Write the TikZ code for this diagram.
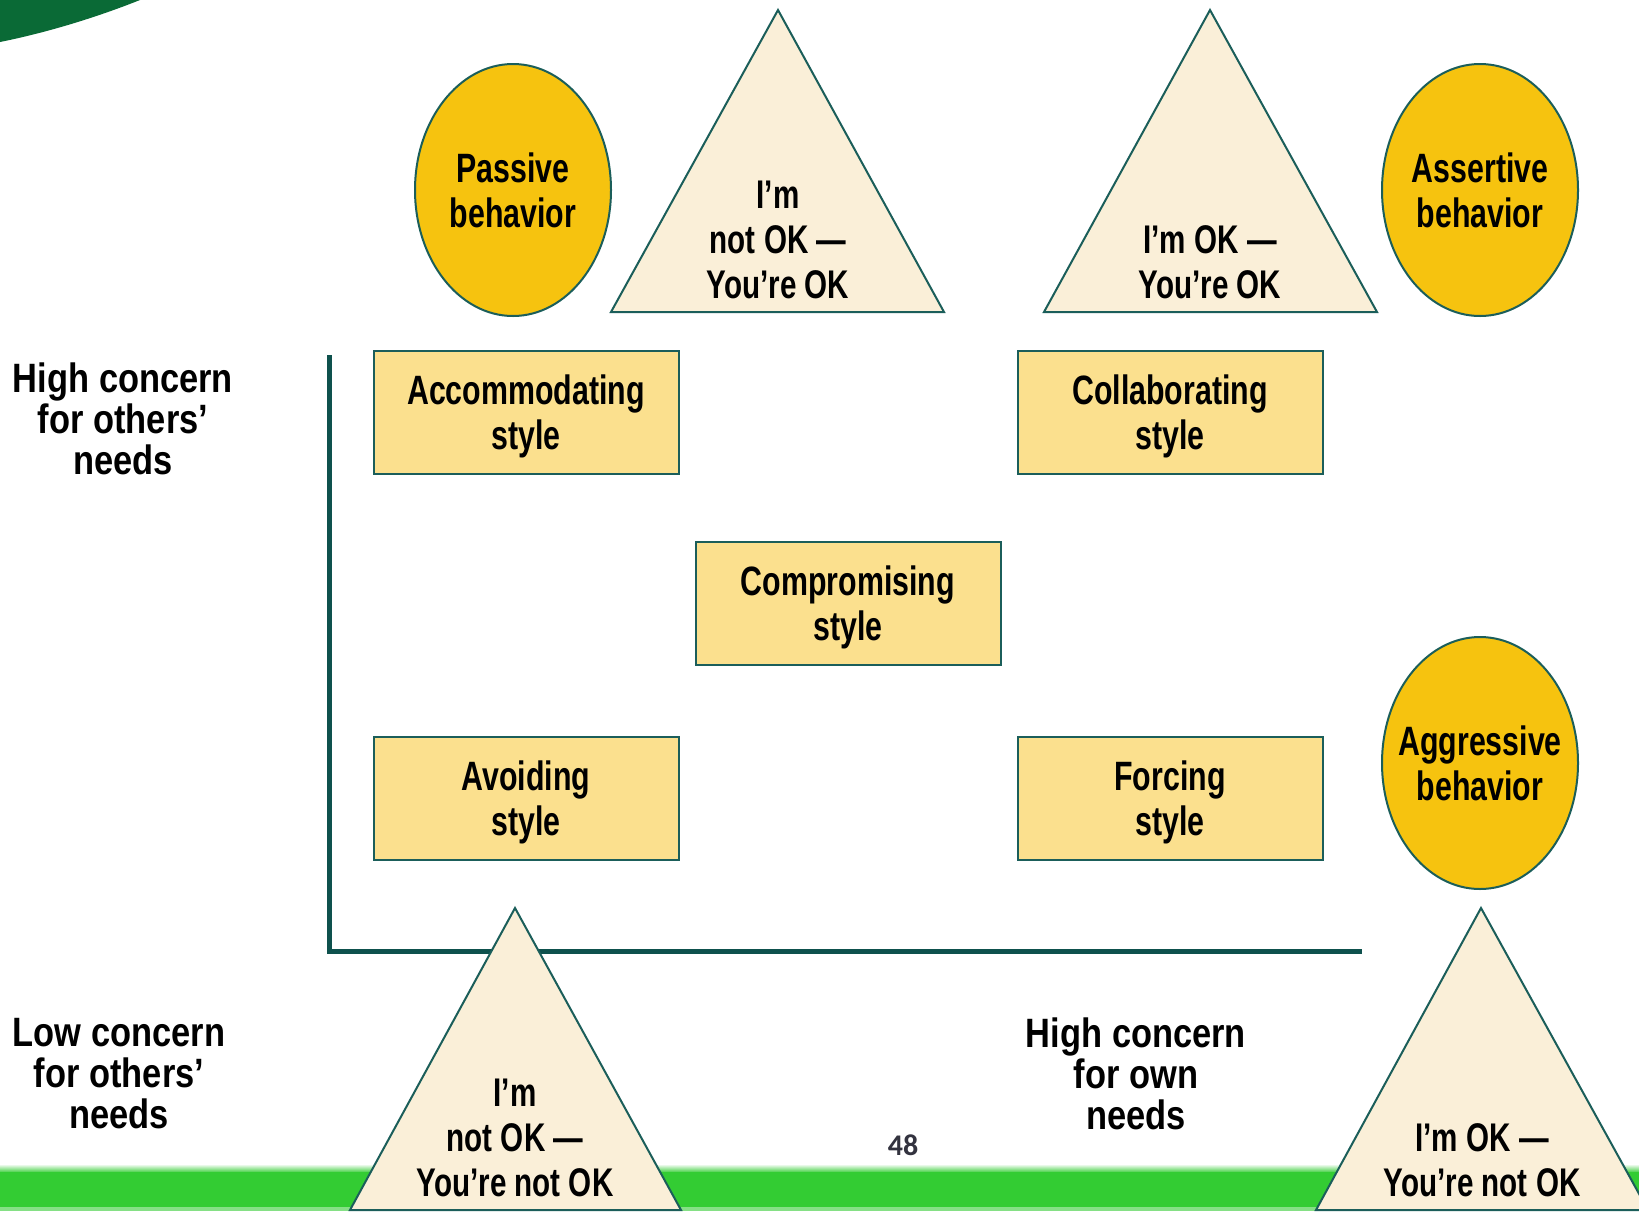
\documentclass[tikz,border=0pt]{standalone}
\usepackage{fontspec}
\setmainfont{Liberation Sans}
\newfontfamily\shapefont[FakeStretch=0.74]{Liberation Sans}
\newfontfamily\labelfont[FakeStretch=0.84]{Liberation Sans}
\newfontfamily\numfont{Carlito}
\usetikzlibrary{shapes.geometric}
\definecolor{darkgreen}{HTML}{0A6A36}
\definecolor{bandgreen}{HTML}{33CC33}
\definecolor{gold}{HTML}{F6C30F}
\definecolor{boxfill}{HTML}{FBE08E}
\definecolor{trifill}{HTML}{FAEFD8}
\definecolor{edge}{HTML}{1B5E5A}
\definecolor{axiscol}{HTML}{0E514D}
\definecolor{numcol}{HTML}{33333F}
\tikzset{
  ell/.style={ellipse, draw=edge, line width=2pt, fill=gold, minimum width=196pt, minimum height=252pt, inner xsep=-30pt, inner ysep=0pt, align=center, font=\shapefont\bfseries\fontsize{41}{45}\selectfont},
  stylebox/.style={rectangle, draw=edge, line width=2pt, fill=boxfill, minimum width=305pt, minimum height=123pt, inner sep=0pt, text depth=0pt, align=center, font=\shapefont\bfseries\fontsize{41}{45}\selectfont},
  tri/.style={draw=edge, line width=2pt, fill=trifill, line join=miter},
  tritext/.style={align=center, inner sep=0pt, font=\shapefont\bfseries\fontsize{40}{45}\selectfont},
  axislabel/.style={align=center, inner sep=0pt, font=\labelfont\bfseries\fontsize{41}{41}\selectfont},
  axisline/.style={draw=axiscol, line width=5pt}
}
\begin{document}
\begin{tikzpicture}[x=1pt,y=-1pt]
\useasboundingbox (0,0) rectangle (1639,1211);
\begin{scope}
\clip (0,0) rectangle (1639,1211);
\fill[white] (0,0) rectangle (1639,1211);
% corner arc
\fill[darkgreen] (0,0) -- (140,0) .. controls (95,18) and (45,33) .. (0,42) -- cycle;
% bottom band
\shade[top color=white, bottom color=bandgreen] (0,1164) rectangle (1639,1173);
\fill[bandgreen] (0,1172) rectangle (1639,1211);
\fill[bandgreen!60!white] (0,1207) rectangle (1639,1211);
% axes
\coordinate (ytop) at (329,357);
\coordinate (origin) at (329,951);
\coordinate (xend) at (1359,951);
\draw[axisline, line cap=rect] (ytop) -- (origin) -- (xend);
% triangles
\path[tri] (778,10) -- (944,312) -- (611,312) -- cycle;
\path[tri] (1210,10) -- (1377,312) -- (1044,312) -- cycle;
\path[tri] (515,908) -- (681,1210) -- (350,1210) -- cycle;
\path[tri] (1481,908) -- (1648,1210) -- (1316,1210) -- cycle;
\end{scope}
% triangle texts
\node[tritext] (t1) at (778,240) {I’m\\not OK —\\You’re OK};
\node[tritext] (t2) at (1210,262) {I’m OK —\\You’re OK};
\node[tritext] (t3) at (515,1138) {I’m\\not OK —\\You’re not OK};
\node[tritext] (t4) at (1482,1160) {I’m OK —\\You’re not OK};
% ellipses
\node[ell] (passive) at (513,190) {Passive\\behavior};
\node[ell] (assertive) at (1480,190) {Assertive\\behavior};
\node[ell] (aggressive) at (1480,763) {Aggressive\\behavior};
% boxes
\node[stylebox] (accom) at (526,412) {Accommodating\\style};
\node[stylebox] (collab) at (1170,412) {Collaborating\\style};
\node[stylebox] (comp) at (848,603) {Compromising\\style};
\node[stylebox] (avoid) at (526,798) {Avoiding\\style};
\node[stylebox] (force) at (1170,798) {Forcing\\style};
% axis labels
\node[axislabel] (highothers) at (123,419) {High concern\\for others’\\needs};
\node[axislabel] (lowothers) at (119,1074) {Low concern\\for others’\\needs};
\node[axislabel] (highown) at (1136,1074) {High concern\\for own\\needs};
% page number
\node[font=\numfont\bfseries\fontsize{30}{30}\selectfont, text=numcol, inner sep=0pt] (pagenum) at (903,1145) {48};
\end{tikzpicture}
\end{document}
